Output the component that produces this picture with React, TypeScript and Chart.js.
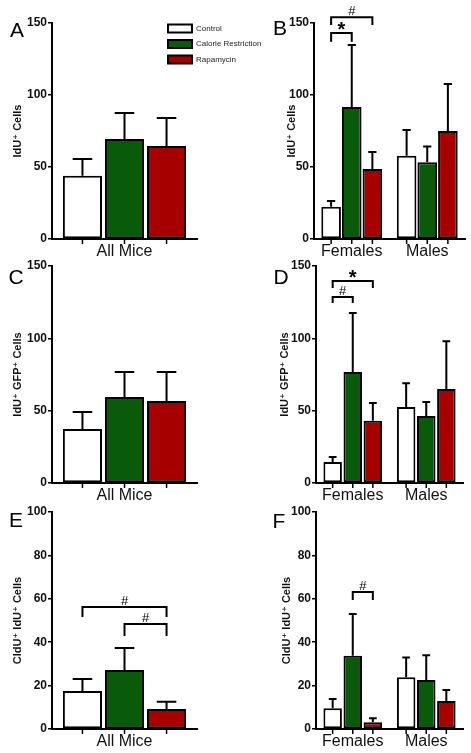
import React, { useEffect, useRef } from "react";
import { Chart, registerables } from "chart.js";
Chart.register(...registerables);

// ---------- data ----------
const groups = ["Control", "Calorie Restriction", "Rapamycin"];
const groupColors = ["#ffffff", "#0a5a0c", "#a60000"];
const allMiceCategories = ["All Mice"];
const sexCategories = ["Females", "Males"];
const ticks150 = [0, 50, 100, 150];
const ticks100 = [0, 20, 40, 60, 80, 100];

// [group][category]
const aMeans = [[44], [69.5], [64.5]];
const aErrors = [[11.5], [18], [19.5]];
const bMeans = [[22.4, 57.8], [91.6, 53.3], [48.6, 75]];
const bErrors = [[4, 17.9], [43.1, 11], [11.8, 32.6]];
const cMeans = [[37.3], [59.5], [56.7]];
const cErrors = [[11.7], [17.2], [20]];
const dMeans = [[14.5, 52.5], [76.7, 46.3], [43, 65]];
const dErrors = [[3.5, 16.5], [40.8, 9.7], [12.3, 33]];
const eMeans = [[17.5], [27.2], [9.2]];
const eErrors = [[5.5], [10.1], [3.4]];
const fMeans = [[9.6, 23.8], [33.7, 22.6], [3.1, 12.9]];
const fErrors = [[4.2, 9.2], [19.3, 11.4], [1.9, 5.1]];

// significance brackets: from/to = [group, category], y/leg in data units
const bBrackets = [
  { from: [0, 0], to: [1, 0], y: 143, leg: 137, text: "*" },
  { from: [0, 0], to: [2, 0], y: 154, leg: 148.6, text: "#" },
];
const dBrackets = [
  { from: [0, 0], to: [1, 0], y: 128.5, leg: 124.4, text: "#" },
  { from: [0, 0], to: [2, 0], y: 139.6, leg: 134.8, text: "*" },
];
const eBrackets = [
  { from: [0, 0], to: [2, 0], y: 56.2, leg: 51.6, text: "#" },
  { from: [1, 0], to: [2, 0], y: 48.4, leg: 42.9, text: "#" },
];
const fBrackets = [{ from: [1, 0], to: [2, 0], y: 63.1, leg: 59.4, text: "#" }];

const FONT = "'Liberation Sans', Arial, 'DejaVu Sans', sans-serif";

// ---------- panel layouts ----------
type Spec = {
  letter: string;
  categories: string[];
  means: number[][];
  errors: number[][];
  brackets: any[];
  yTicks: number[];
  yTitle: string;
  canvas: { x: number; y: number; w: number; h: number };
  plot: { l: number; t: number; r: number; b: number };
  titleX: number;
  letterOff: [number, number];
  catPct: number;
  barPct: number;
  capFrac: number;
  legend?: boolean;
};

const panels: Spec[] = [
  {
    letter: "A", categories: allMiceCategories, means: aMeans, errors: aErrors, brackets: [],
    yTicks: ticks150, yTitle: "IdU\u207A Cells",
    canvas: { x: 0, y: 0, w: 275, h: 262 }, plot: { l: 52, t: 23, r: 197, b: 239 },
    titleX: 18, letterOff: [-35, 8], catPct: 0.87, barPct: 0.93, capFrac: 0.5, legend: true,
  },
  {
    letter: "B", categories: sexCategories, means: bMeans, errors: bErrors, brackets: bBrackets,
    yTicks: ticks150, yTitle: "IdU\u207A Cells",
    canvas: { x: 230, y: 0, w: 241, h: 262 }, plot: { l: 314, t: 23, r: 465, b: 239 },
    titleX: 292, letterOff: [-34, 6], catPct: 0.82, barPct: 0.95, capFrac: 0.42,
  },
  {
    letter: "C", categories: allMiceCategories, means: cMeans, errors: cErrors, brackets: [],
    yTicks: ticks150, yTitle: "IdU\u207A GFP\u207A Cells",
    canvas: { x: 0, y: 250, w: 230, h: 262 }, plot: { l: 52, t: 266, r: 197, b: 483 },
    titleX: 18, letterOff: [-36, 12], catPct: 0.87, barPct: 0.93, capFrac: 0.5,
  },
  {
    letter: "D", categories: sexCategories, means: dMeans, errors: dErrors, brackets: dBrackets,
    yTicks: ticks150, yTitle: "IdU\u207A GFP\u207A Cells",
    canvas: { x: 230, y: 250, w: 241, h: 262 }, plot: { l: 316, t: 266, r: 463, b: 483 },
    titleX: 285, letterOff: [-35, 12], catPct: 0.82, barPct: 0.92, capFrac: 0.42,
  },
  {
    letter: "E", categories: allMiceCategories, means: eMeans, errors: eErrors, brackets: eBrackets,
    yTicks: ticks100, yTitle: "CldU\u207A IdU\u207A Cells",
    canvas: { x: 0, y: 495, w: 230, h: 258 }, plot: { l: 52, t: 512, r: 197, b: 729 },
    titleX: 18, letterOff: [-36, 9], catPct: 0.87, barPct: 0.93, capFrac: 0.5,
  },
  {
    letter: "F", categories: sexCategories, means: fMeans, errors: fErrors, brackets: fBrackets,
    yTicks: ticks100, yTitle: "CldU\u207A IdU\u207A Cells",
    canvas: { x: 230, y: 495, w: 241, h: 258 }, plot: { l: 316, t: 512, r: 463, b: 729 },
    titleX: 287, letterOff: [-37, 10], catPct: 0.82, barPct: 0.92, capFrac: 0.42,
  },
];

// ---------- plugin for error bars, ticks, brackets, letter, legend ----------
const extrasPlugin = {
  id: "extras",
  afterDatasetsDraw(chart: any, _args: any, opts: any) {
    const ctx = chart.ctx;
    const area = chart.chartArea;
    const yScale = chart.scales.y;
    ctx.save();
    ctx.strokeStyle = "#000";
    ctx.fillStyle = "#000";
    chart.data.datasets.forEach((ds: any, i: number) => {
      const meta = chart.getDatasetMeta(i);
      meta.data.forEach((bar: any, j: number) => {
        const v = ds.data[j];
        const top = yScale.getPixelForValue(v + ds.errors[j]);
        const base = yScale.getPixelForValue(v);
        const half = (bar.width * opts.capFrac) / 2;
        ctx.lineWidth = 2;
        ctx.beginPath();
        ctx.moveTo(bar.x, base);
        ctx.lineTo(bar.x, top);
        ctx.moveTo(bar.x - half, top);
        ctx.lineTo(bar.x + half, top);
        ctx.stroke();
        ctx.lineWidth = 1.5;
        ctx.beginPath();
        ctx.moveTo(bar.x, area.bottom);
        ctx.lineTo(bar.x, area.bottom + 5);
        ctx.stroke();
      });
    });
    // brackets
    (opts.brackets || []).forEach((br: any) => {
      const x1 = chart.getDatasetMeta(br.from[0]).data[br.from[1]].x;
      const x2 = chart.getDatasetMeta(br.to[0]).data[br.to[1]].x;
      const yl = yScale.getPixelForValue(br.y);
      const yb = yScale.getPixelForValue(br.leg);
      ctx.lineWidth = 2;
      ctx.beginPath();
      ctx.moveTo(x1, yb);
      ctx.lineTo(x1, yl);
      ctx.lineTo(x2, yl);
      ctx.lineTo(x2, yb);
      ctx.stroke();
      ctx.textAlign = "center";
      ctx.textBaseline = "alphabetic";
      if (br.text === "*") {
        ctx.font = `bold 20px ${FONT}`;
        ctx.fillText(br.text, (x1 + x2) / 2, yl + 3);
      } else {
        ctx.font = `13px ${FONT}`;
        ctx.fillText(br.text, (x1 + x2) / 2, yl - 2);
      }
    });
    // panel letter
    ctx.font = `21px ${FONT}`;
    ctx.textAlign = "center";
    ctx.textBaseline = "middle";
    ctx.fillStyle = "#000";
    ctx.fillText(opts.letter, area.left + opts.letterOff[0], area.top + opts.letterOff[1]);
    // legend
    if (opts.legend) {
      chart.data.datasets.forEach((ds: any, i: number) => {
        const bx = area.left + 116;
        const cy = area.top + 5.5 + i * 15.5;
        ctx.fillStyle = ds.backgroundColor;
        ctx.fillRect(bx, cy - 4, 24, 8);
        ctx.lineWidth = 2;
        ctx.strokeStyle = "#000";
        ctx.strokeRect(bx, cy - 4, 24, 8);
        ctx.fillStyle = "#222";
        ctx.font = `8px ${FONT}`;
        ctx.textAlign = "left";
        ctx.textBaseline = "middle";
        ctx.fillText(ds.label, bx + 28, cy);
      });
    }
    ctx.restore();
  },
};

function buildConfig(s: Spec): any {
  const padLeft = s.titleX - s.canvas.x - 6.6;
  const yWidth = s.plot.l - s.canvas.x - padLeft;
  const padTop = s.plot.t - s.canvas.y;
  const padRight = s.canvas.x + s.canvas.w - s.plot.r;
  const xHeight = s.canvas.y + s.canvas.h - s.plot.b;
  return {
    type: "bar",
    data: {
      labels: s.categories,
      datasets: groups.map((g, gi) => ({
        label: g,
        data: s.means[gi],
        errors: s.errors[gi],
        backgroundColor: groupColors[gi],
        borderColor: "#000",
        borderWidth: 2,
        borderSkipped: false,
        barPercentage: s.barPct,
        categoryPercentage: s.catPct,
      })),
    },
    options: {
      animation: false,
      responsive: false,
      devicePixelRatio: 1,
      layout: { padding: { left: padLeft, top: padTop, right: padRight, bottom: 0 } },
      plugins: {
        legend: { display: false },
        tooltip: { enabled: false },
        extras: {
          letter: s.letter,
          letterOff: s.letterOff,
          brackets: s.brackets,
          capFrac: s.capFrac,
          legend: !!s.legend,
        },
      },
      scales: {
        x: {
          grid: { display: false, drawTicks: false },
          border: { display: true, color: "#000", width: 2 },
          ticks: { color: "#111", font: { family: FONT, size: 16 }, padding: 3, maxRotation: 0 },
          afterFit: (sc: any) => { sc.height = xHeight; },
        },
        y: {
          min: s.yTicks[0],
          max: s.yTicks[s.yTicks.length - 1],
          afterBuildTicks: (sc: any) => { sc.ticks = s.yTicks.map((v) => ({ value: v })); },
          grid: { display: true, drawOnChartArea: false, drawTicks: true, tickLength: 4, color: "#000", lineWidth: 1.5 },
          border: { display: true, color: "#000", width: 2 },
          ticks: { color: "#111", font: { family: FONT, size: 12, weight: "bold" }, padding: 1 },
          title: {
            display: true,
            text: s.yTitle,
            color: "#111",
            font: { family: FONT, size: 11, weight: "bold" },
            padding: 0,
          },
          afterFit: (sc: any) => { sc.width = yWidth; },
        },
      },
    },
    plugins: [extrasPlugin],
  };
}

function Panel({ spec }: { spec: Spec }) {
  const ref = useRef<HTMLCanvasElement>(null);
  useEffect(() => {
    const chart = new Chart(ref.current as HTMLCanvasElement, buildConfig(spec));
    return () => chart.destroy();
  }, [spec]);
  return (
    <canvas
      ref={ref}
      width={spec.canvas.w}
      height={spec.canvas.h}
      style={{
        position: "absolute",
        left: spec.canvas.x,
        top: spec.canvas.y,
        width: spec.canvas.w,
        height: spec.canvas.h,
      }}
    />
  );
}

export default function App() {
  return (
    <div style={{ position: "fixed", left: 0, top: 0, width: 471, height: 753, background: "#fff" }}>
      {panels.map((p) => (
        <Panel key={p.letter} spec={p} />
      ))}
    </div>
  );
}
